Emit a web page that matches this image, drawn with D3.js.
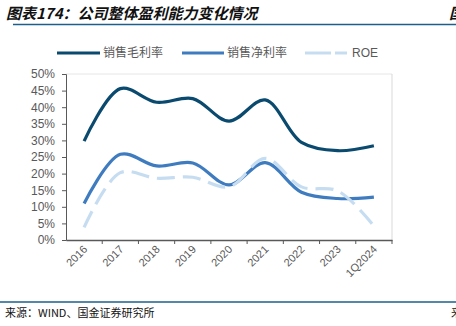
<!DOCTYPE html>
<html><head><meta charset="utf-8">
<script src="https://cdn.jsdelivr.net/npm/d3@7/dist/d3.min.js"></script>
<style>
body{margin:0;background:#fff;}
svg{display:block;}
</style></head>
<body>
<script>
const categories = ["2016","2017","2018","2019","2020","2021","2022","2023","1Q2024"];
const grossMargin = [29.8, 45.6, 41.5, 42.6, 35.8, 42.2, 29.4, 26.9, 28.4];
const netMargin   = [11.0, 25.8, 22.3, 23.2, 16.6, 23.3, 14.4, 12.5, 12.9];
const roe         = [3.8, 20.3, 18.6, 18.9, 16.0, 24.6, 16.0, 14.8, 4.2];
const yTicks = [0,5,10,15,20,25,30,35,40,45,50];
const seriesNames = ["销售毛利率","销售净利率","ROE"];
const titleText = "图表174：公司整体盈利能力变化情况";
const sourceText = "来源：WIND、国金证券研究所";

const W = 456, H = 326;
const svg = d3.select("body").append("svg").attr("width", W).attr("height", H);
const margin = {left: 66, right: 64, top: 74, bottom: 86};
const x = d3.scaleBand().domain(categories).range([margin.left, W - margin.right]);
const y = d3.scaleLinear().domain([0, 50]).range([H - margin.bottom, margin.top]);
const font = "'Liberation Sans', Arial, sans-serif";
const cjk = "'Noto Sans CJK SC', sans-serif";

// Title
svg.append("text").attr("x", 6).attr("y", 19).text(titleText)
  .attr("font-family", cjk).attr("font-size", 15).attr("font-weight", "bold")
  .attr("font-style", "italic").attr("fill", "#111");
svg.append("text").attr("x", 449).attr("y", 19).text("国")
  .attr("font-family", cjk).attr("font-size", 15).attr("font-weight", "bold")
  .attr("font-style", "italic").attr("fill", "#111");
svg.append("line").attr("x1", 13).attr("x2", W).attr("y1", 24.5).attr("y2", 24.5)
  .attr("stroke", "#1d5f8c").attr("stroke-width", 1.5);

// Plot frame (light)
svg.append("line").attr("x1", margin.left).attr("x2", W - margin.right)
  .attr("y1", y(50)).attr("y2", y(50)).attr("stroke", "#e6e6e6");
svg.append("line").attr("x1", W - margin.right).attr("x2", W - margin.right)
  .attr("y1", y(50)).attr("y2", y(0)).attr("stroke", "#d9d9d9");

// Y axis
const yAxis = svg.append("g").attr("transform", `translate(${margin.left},0)`)
  .call(d3.axisLeft(y).tickValues(yTicks).tickSize(4).tickFormat(d => d + "%"));
yAxis.select(".domain").attr("stroke", "#595959");
yAxis.selectAll(".tick line").attr("stroke", "#595959");
yAxis.selectAll("text").attr("font-family", font).attr("font-size", 12)
  .attr("fill", "#595959").attr("dx", -4);

// X axis
const xAxis = svg.append("g").attr("transform", `translate(0,${y(0)})`)
  .call(d3.axisBottom(x).tickSize(0).tickFormat(""));
xAxis.select(".domain").attr("stroke", "#595959").attr("stroke-width", 1.5);
xAxis.selectAll(".tick").remove();
const bounds = categories.map(c => x(c)).concat([x(categories[categories.length-1]) + x.bandwidth()]);
xAxis.selectAll("line.tk").data(bounds.slice(1)).enter().append("line")
  .attr("class","tk").attr("x1", d => d).attr("x2", d => d).attr("y1", 0).attr("y2", 4)
  .attr("stroke", "#595959");
xAxis.selectAll("text.lbl").data(categories).enter().append("text")
  .attr("class","lbl")
  .attr("transform", d => `translate(${x(d) + x.bandwidth()/2 + 4},${10}) rotate(-45)`)
  .attr("text-anchor", "end").attr("font-family", font).attr("font-size", 11)
  .attr("fill", "#595959").text(d => d);

// Lines
const line = d3.line()
  .x((d, i) => x(categories[i]) + x.bandwidth()/2)
  .y(d => y(d))
  .curve(d3.curveCatmullRom.alpha(0.5));
const styles = [
  {data: grossMargin, color: "#0b4a6f", dash: null},
  {data: netMargin, color: "#3f7cbf", dash: null},
  {data: roe, color: "#c6ddf1", dash: "18,8"}
];
styles.forEach(s => {
  svg.append("path").attr("d", line(s.data)).attr("fill", "none")
    .attr("stroke", s.color).attr("stroke-width", 3.2)
    .attr("stroke-dasharray", s.dash);
});

// Legend
const legendItems = [
  {x1: 57, x2: 100, tx: 103, color: "#0b4a6f", dash: null},
  {x1: 182, x2: 224, tx: 227, color: "#3f7cbf", dash: null},
  {x1: 305, x2: 347, tx: 352, color: "#c6ddf1", dash: "26,4"}
];
legendItems.forEach((l, i) => {
  svg.append("line").attr("x1", l.x1).attr("x2", l.x2).attr("y1", 53).attr("y2", 53)
    .attr("stroke", l.color).attr("stroke-width", 3.2).attr("stroke-dasharray", l.dash);
  svg.append("text").attr("x", l.tx).attr("y", 57).text(seriesNames[i])
    .attr("font-family", i < 2 ? cjk : font).attr("font-size", 12).attr("fill", "#595959");
});

// Footer
svg.append("line").attr("x1", 0).attr("x2", W).attr("y1", 302).attr("y2", 302)
  .attr("stroke", "#1d5f8c").attr("stroke-width", 1.5);
svg.append("text").attr("x", 5).attr("y", 317).text(sourceText)
  .attr("font-family", cjk).attr("font-size", 11).attr("fill", "#111");
svg.append("text").attr("x", 451).attr("y", 317).text("来")
  .attr("font-family", cjk).attr("font-size", 11).attr("fill", "#111");
</script>
</body></html>
